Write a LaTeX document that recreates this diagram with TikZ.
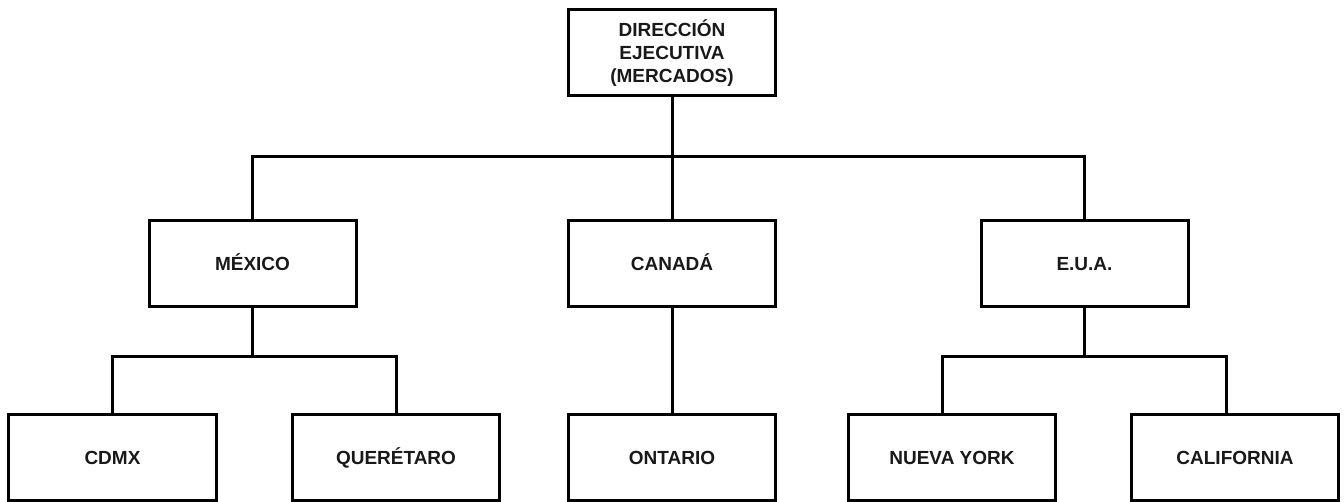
\documentclass[tikz,border=0pt]{standalone}
\usepackage{fontspec}
\setmainfont{Liberation Sans}
\begin{document}
\begin{tikzpicture}[x=1bp,y=-1bp,
  boxbase/.style={draw=black, line width=3bp, minimum width=207bp, minimum height=86bp,
    inner sep=0pt, align=center, font=\fontsize{19bp}{23bp}\selectfont\bfseries, text=black!90},
  box/.style={boxbase, text height=14bp, text depth=0bp},
  conn/.style={draw=black, line width=3bp}]
\useasboundingbox (0,0) rectangle (1344,502);
\node[boxbase] (top) at (672,53) {DIRECCIÓN\\EJECUTIVA\\(MERCADOS)};
\node[box] (mex) at (252.5,263.5) {MÉXICO};
\node[box] (can) at (672,263.5) {CANADÁ};
\node[box] (eua) at (1084.5,263.5) {E.U.A.};
\node[box] (cdmx) at (112.5,457) {CDMX};
\node[box] (quer) at (396,457) {QUERÉTARO};
\node[box] (ont) at (672,457) {ONTARIO};
\node[box] (ny) at (952,457) {NUEVA YORK};
\node[box] (cal) at (1235,457) {CALIFORNIA};
\coordinate (bus) at (672,157);
\coordinate (mbus) at (252.5,356);
\coordinate (ebus) at (1084.5,356);
% top level
\draw[conn] (top.south) -- (can.north);
\draw[conn] (mex.north) -- (mex.north |- bus) -- (eua.north |- bus) -- (eua.north);
% Mexico
\draw[conn] (mex.south) -- (mbus);
\draw[conn] (cdmx.north) -- (cdmx.north |- mbus) -- (quer.north |- mbus) -- (quer.north);
% Canada
\draw[conn] (can.south) -- (ont.north);
% EUA
\draw[conn] (eua.south) -- (ebus);
\draw[conn] ([xshift=-10bp]ny.north) -- ([xshift=-10bp]ny.north |- ebus) -- ([xshift=-9bp]cal.north |- ebus) -- ([xshift=-9bp]cal.north);
\end{tikzpicture}
\end{document}
